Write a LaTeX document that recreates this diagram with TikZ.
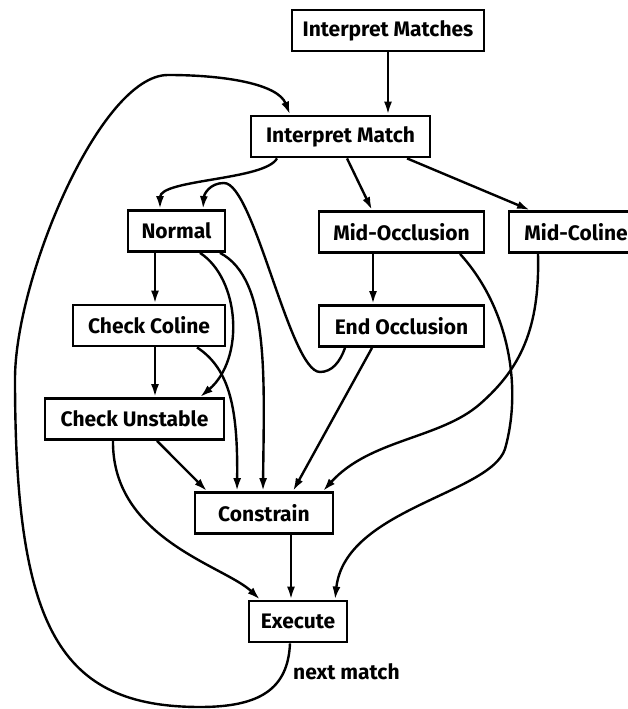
\documentclass[tikz,border=0pt]{standalone}
\usepackage{fontspec}
\setmainfont{Fira Sans}
\usetikzlibrary{arrows.meta}

\begin{document}
\begin{tikzpicture}[x=1pt, y=1pt,
    box/.style={draw, line width=2.8pt, minimum height=41pt, inner sep=0pt,
      font=\fontsize{21}{23}\selectfont\bfseries},
    link/.style={line width=2.4pt, -{Latex[length=13pt,width=8pt]}}]
  \useasboundingbox (0,0) rectangle (628,709);
  \node[box, minimum width=192pt] (matches) at (388,678.5) {Interpret Matches};
  \node[box, minimum width=179pt] (match) at (340.5,572.5) {Interpret Match};
  \node[box, minimum width=97pt] (normal) at (176.5,478) {Normal};
  \node[box, minimum width=165pt] (midocc) at (401.5,477) {Mid-Occlusion};
  \node[box, minimum width=134pt] (midcol) at (576,477) {Mid-Coline};
  \node[box, minimum width=152pt] (chkcol) at (149,383.5) {Check Coline};
  \node[box, minimum width=165pt] (endocc) at (401.5,383) {End Occlusion};
  \node[box, minimum width=179pt] (chkuns) at (134.5,290) {Check Unstable};
  \node[box, minimum width=138pt] (constrain) at (264,196) {Constrain};
  \node[box, minimum width=98pt] (execute) at (298,87.5) {Execute};
  \node[font=\fontsize{21}{23}\selectfont\bfseries, anchor=west, inner sep=0pt] (nextlbl) at (293,37) {next match};

  \draw[link] (matches.south) -- (matches.south |- match.north);
  \draw[link] ([xshift=-63.5pt]match.south) .. controls +(-12,-22) and +(0,30) .. ([xshift=-16.5pt]normal.north);
  \draw[link] ([xshift=6.5pt]match.south) -- ([xshift=-29.5pt]midocc.north);
  \draw[link] ([xshift=66.5pt]match.south) -- ([xshift=-46pt]midcol.north);
  \draw[link] ([xshift=-56.5pt]endocc.south) .. controls (340,347) and (332,337) .. (320,337)
    .. controls (290,337) and (254,526) .. (224,526)
    .. controls (210,526) and (204,515) .. ([xshift=26.5pt]normal.north);
  \draw[link] ([xshift=-21.5pt]normal.south) -- ([xshift=6pt]chkcol.north);
  \draw[link] ([xshift=23.5pt]normal.south) .. controls (240,430) and (245,350) .. ([xshift=65.5pt]chkuns.north);
  \draw[link] ([xshift=43.5pt]normal.south) .. controls (270,430) and (264,330) .. ([xshift=-1pt]constrain.north);
  \draw[link] ([xshift=6pt]chkcol.south) -- ([xshift=20.5pt]chkuns.north);
  \draw[link] ([xshift=48pt]chkcol.south) .. controls (230,340) and (238,300) .. ([xshift=-27pt]constrain.north);
  \draw[link] ([xshift=22.5pt]chkuns.south) -- ([xshift=-57pt]constrain.north);
  \draw[link] ([xshift=-21.5pt]chkuns.south) .. controls (112,170) and (225,143) .. ([xshift=-38pt]execute.north);
  \draw[link] ([xshift=27pt]constrain.south) -- ([xshift=-7pt]execute.north);
  \draw[link] ([xshift=-29.5pt]endocc.south) -- ([xshift=29pt]constrain.north);
  \draw[link] ([xshift=-28.5pt]midocc.south) -- ([xshift=-28.5pt]endocc.north);
  \draw[link] ([xshift=58.5pt]midocc.south) .. controls (510,400) and (522,320) .. (505,260)
    .. controls (490,215) and (345,200) .. ([xshift=37pt]execute.north);
  \draw[link] ([xshift=-38pt]midcol.south) .. controls (540,380) and (520,340) .. (480,305)
    .. controls (440,270) and (370,270) .. ([xshift=59pt]constrain.north);
  \draw[link] ([xshift=-8pt]execute.south) .. controls (288,20) and (260,2) .. (200,2)
    .. controls (60,2) and (15,80) .. (15,330)
    .. controls (15,430) and (100,634) .. (168,634)
    .. controls (225,634) and (278,625) .. ([xshift=-50.5pt]match.north);
\end{tikzpicture}
\end{document}
